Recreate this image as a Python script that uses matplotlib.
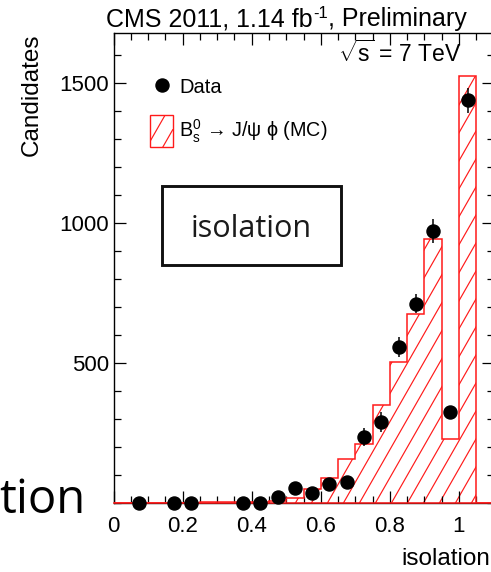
import numpy as np
import matplotlib
matplotlib.use("Agg")
import matplotlib.pyplot as plt
from matplotlib.transforms import IdentityTransform
from matplotlib.patches import Rectangle
from matplotlib.lines import Line2D

plt.rcParams["font.family"] = ["Liberation Sans", "DejaVu Sans"]
plt.rcParams["mathtext.fontset"] = "custom"
plt.rcParams["mathtext.rm"] = "Liberation Sans"
plt.rcParams["mathtext.it"] = "Liberation Sans:italic"
plt.rcParams["mathtext.sf"] = "Liberation Sans"
plt.rcParams["mathtext.default"] = "regular"

# ---- data -------------------------------------------------------------
bin_edges = np.round(np.arange(0.0, 1.1001, 0.05), 3)
mc_counts = [0, 0, 0, 0, 0, 4, 4, 4, 4, 7, 19, 50, 88, 156, 210, 350,
             505, 675, 943, 229, 1525, 0]

data_x = [0.075, 0.175, 0.225, 0.375, 0.425, 0.475, 0.525, 0.575, 0.625,
          0.675, 0.725, 0.775, 0.825, 0.875, 0.925, 0.975, 1.025]
data_y = [1, 1, 1, 1, 1, 20, 52, 37, 69, 76, 237, 288, 557, 711, 971, 325, 1437]
data_err = [1, 1, 1, 1, 1, 10, 15, 13, 17, 18, 32, 36, 37, 34, 42, 20, 45]

x_ticks = [0.0, 0.2, 0.4, 0.6, 0.8, 1.0]
x_tick_labels = ["0", "0.2", "0.4", "0.6", "0.8", "1"]
y_ticks = [500, 1000, 1500]
y_tick_labels = ["500", "1000", "1500"]

# ---- figure layout (pixel based) --------------------------------------
W, H, DPI = 491, 572, 100
fig = plt.figure(figsize=(W / DPI, H / DPI), dpi=DPI)
renderer = fig.canvas.get_renderer()


def fx(px):
    return px / W


def fy(py):
    return 1.0 - py / H


def disp(px, py):
    return px, H - py


ax = fig.add_axes([fx(113.5), fy(503), 380 / W, 470 / H])
ax.set_xlim(bin_edges[0], bin_edges[-1])
ax.set_ylim(0, 1.1 * max(mc_counts))

for s in ax.spines.values():
    s.set_linewidth(1.0)
    s.set_zorder(2.5)

ax.set_xticks(x_ticks)
ax.set_xticklabels(x_tick_labels)
ax.set_xticks(bin_edges, minor=True)
ax.set_yticks(y_ticks)
ax.set_yticklabels(y_tick_labels)
ax.set_yticks(np.arange(0, 1700, 100), minor=True)
ax.tick_params(which="both", direction="in", top=True, right=True,
               width=0.9, labelsize=16)
ax.tick_params(which="major", length=8.6)
ax.tick_params(which="minor", length=4.8)
ax.tick_params(axis="x", pad=9.5)
ax.tick_params(axis="y", pad=3)

RED = "#ff1a1a"
HATCH_SLOPE = 1.75   # rise over run of hatch lines, in pixels
HATCH_STEP = 28      # vertical spacing between hatch lines, in pixels


def hatch_lines(clip_patch, x0, y0, x1, y1, parent, zorder):
    """Draw '/' hatch lines in display space over a box, clipped to a patch."""
    kmin = int(np.floor((y0 - HATCH_SLOPE * x1) / HATCH_STEP)) - 1
    kmax = int(np.ceil((y1 - HATCH_SLOPE * x0) / HATCH_STEP)) + 1
    for k in range(kmin, kmax + 1):
        c = k * HATCH_STEP
        ln = Line2D([x0, x1], [HATCH_SLOPE * x0 + c, HATCH_SLOPE * x1 + c],
                    transform=IdentityTransform(), color=RED, lw=0.85,
                    zorder=zorder, solid_capstyle="butt")
        ln.set_clip_path(clip_patch)
        parent.add_artist(ln)


# MC histogram: clip region, hatch, outline
clip_region = ax.stairs(mc_counts, bin_edges, fill=True, facecolor="none",
                        edgecolor="none", zorder=1)
bx0, by0 = ax.transAxes.transform((0, 0))
bx1, by1 = ax.transAxes.transform((1, 1))
hatch_lines(clip_region, bx0, by0, bx1, by1, ax, 1.5)
ax.stairs(mc_counts, bin_edges, fill=False, edgecolor=RED, lw=1.1,
          zorder=2.6, baseline=0)
ax.plot([bin_edges[0], bin_edges[-1]], [0, 0], color=RED, lw=1.1,
        zorder=2.6, clip_on=False)

# data points
eb = ax.errorbar(data_x, data_y, yerr=data_err, fmt="o", color="black",
                 ms=9.4, elinewidth=1.1, capsize=0, zorder=4)
for art in eb.get_children():
    art.set_clip_on(False)

# ---- texts ------------------------------------------------------------
# header line with a raised "-1"
t1 = fig.text(fx(106), fy(26), "CMS 2011, 1.14 fb", ha="left",
              va="baseline", fontsize=18)
bb1 = t1.get_window_extent(renderer)
t2 = fig.text((bb1.x1 + 0.5) / W, fy(26) + 8 / H, "-1", ha="left",
              va="baseline", fontsize=12)
bb2 = t2.get_window_extent(renderer)
fig.text((bb2.x1 + 0.5) / W, fy(26), ", Preliminary", ha="left",
         va="baseline", fontsize=18)

fig.text(fx(461), fy(62), r"$\sqrt{s}$ = 7 TeV", ha="right", va="baseline",
         fontsize=16.5)
fig.text(fx(31.5), fy(33), "Candidates", rotation=90, ha="center", va="top",
         fontsize=17.5)
fig.text(fx(490), fy(565), "isolation", ha="right", va="baseline",
         fontsize=17.5)

# legend
mx, my = disp(162, 85)
fig.add_artist(Line2D([mx], [my], marker="o", ms=9.4, color="black",
                      transform=IdentityTransform(), zorder=5))
fig.text(fx(179), fy(93), "Data", ha="left", va="baseline", fontsize=14.5)
lx0, ly0 = disp(150, 147)
leg_box = Rectangle((lx0, ly0), 23, 32, transform=IdentityTransform(),
                    facecolor="white", edgecolor=RED, lw=1.0, zorder=5)
fig.add_artist(leg_box)
hatch_lines(leg_box, lx0, ly0, lx0 + 23, ly0 + 32, fig, 5.5)
fig.text(fx(179), fy(137), r"B$_s^0$ → J/ψ ϕ (MC)", ha="left",
         va="baseline", fontsize=14.2)

# variable name box
fig.add_artist(Rectangle((fx(162), fy(265)), (341 - 162) / W, (265 - 186) / H,
                         transform=fig.transFigure, facecolor="white",
                         edgecolor="#111111", lw=2.1, zorder=5))
fig.text(fx(251.5), fy(237), "isolation", ha="center", va="baseline",
         fontsize=22, family="Open Sans", color="#1a1a1a", zorder=6)

# slide heading fragment at the lower left
fig.text(fx(86), fy(513), "tion", ha="right", va="baseline",
         fontsize=34, family="Open Sans", color="black")

fig.savefig("out.png", dpi=DPI)
